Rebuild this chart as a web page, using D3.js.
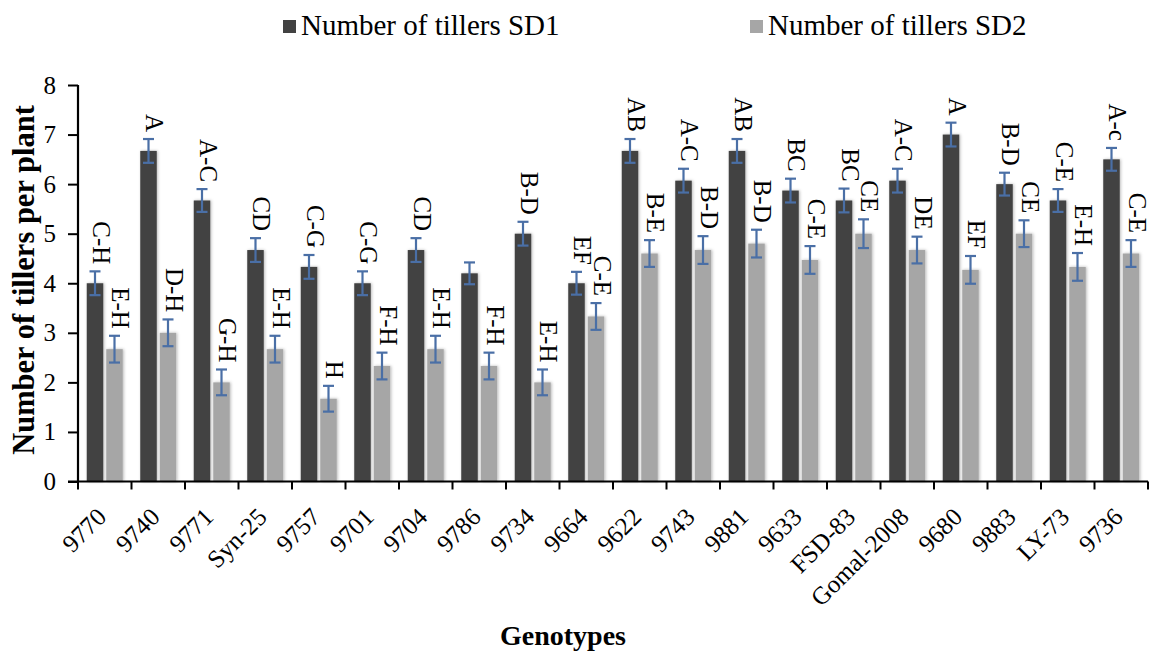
<!DOCTYPE html>
<html>
<head>
<meta charset="utf-8">
<script src="https://cdn.jsdelivr.net/npm/d3@7"></script>
<style>
  html, body { margin: 0; padding: 0; background: #fff; }
  svg { display: block; font-family: "Liberation Serif", "Times New Roman", serif; }
</style>
</head>
<body>
<svg id="chart" width="1150" height="651"></svg>
<script>
// Genotypes on the x axis
const genotypes = ["9770", "9740", "9771", "Syn-25", "9757", "9701", "9704", "9786", "9734", "9664",
  "9622", "9743", "9881", "9633", "FSD-83", "Gomal-2008", "9680", "9883", "LY-73", "9736"];

// Mean number of tillers per plant, sowing date 1 and 2
const tillersSD1 = [4.0, 6.67, 5.67, 4.67, 4.33, 4.0, 4.67, 4.2, 5.0, 4.0,
  6.67, 6.07, 6.67, 5.87, 5.67, 6.07, 7.0, 6.0, 5.67, 6.5];
const tillersSD2 = [2.67, 3.0, 2.0, 2.67, 1.67, 2.33, 2.67, 2.33, 2.0, 3.33,
  4.6, 4.67, 4.8, 4.47, 5.0, 4.67, 4.27, 5.0, 4.33, 4.6];

// Standard errors
const errSD1 = [0.24, 0.24, 0.23, 0.24, 0.24, 0.24, 0.24, 0.22, 0.24, 0.23,
  0.24, 0.24, 0.24, 0.24, 0.24, 0.24, 0.24, 0.23, 0.23, 0.23];
const errSD2 = [0.27, 0.27, 0.26, 0.27, 0.26, 0.27, 0.27, 0.27, 0.26, 0.27,
  0.27, 0.28, 0.28, 0.28, 0.29, 0.27, 0.28, 0.27, 0.28, 0.27];

// Mean separation letters (empty string: no letter drawn)
const lettersSD1 = ["C-H", "A", "A-C", "CD", "C-G", "C-G", "CD", "", "B-D", "EF",
  "AB", "A-C", "AB", "BC", "BC", "A-C", "A", "B-D", "C-E", "A-c"];
const lettersSD2 = ["E-H", "D-H", "G-H", "E-H", "H", "F-H", "E-H", "F-H", "E-H", "C-E",
  "B-E", "B-D", "B-D", "C-E", "CE", "DE", "EF", "CE", "E-H", "C-E"];

const yTicks = [0, 1, 2, 3, 4, 5, 6, 7, 8];

const seriesNames = ["Number of tillers SD1", "Number of tillers SD2"];
const seriesColors = ["#424242", "#a6a6a6"];

const W = 1150, H = 651;
const margin = { top: 85, right: 2, bottom: 170, left: 78 };

const svg = d3.select("#chart");

// soft shadow around the bars
const defs = svg.append("defs");
const f = defs.append("filter").attr("id", "shadow")
  .attr("x", "-30%").attr("y", "-5%").attr("width", "160%").attr("height", "110%");
f.append("feDropShadow").attr("dx", 1).attr("dy", 0).attr("stdDeviation", 1.6)
  .attr("flood-color", "#000").attr("flood-opacity", 0.28);

const x0 = d3.scaleBand().domain(genotypes)
  .range([margin.left, W - margin.right]).paddingInner(0).paddingOuter(0);
const y = d3.scaleLinear().domain([0, 8]).range([H - margin.bottom + 0.5, margin.top]);

const barW = 16.5, barGap = 3;
const offsets = [-barGap / 2 - barW, barGap / 2];

const rows = genotypes.map((g, i) => ({
  g, i,
  vals: [tillersSD1[i], tillersSD2[i]],
  errs: [errSD1[i], errSD2[i]],
  letters: [lettersSD1[i], lettersSD2[i]]
}));

const groups = svg.append("g").selectAll("g.grp").data(rows).join("g")
  .attr("class", "grp")
  .attr("transform", d => `translate(${x0(d.g) + x0.bandwidth() / 2},0)`);

// bars
groups.selectAll("rect").data(d => d.vals.map((v, s) => ({ v, s }))).join("rect")
  .attr("x", d => offsets[d.s])
  .attr("width", barW)
  .attr("y", d => y(d.v))
  .attr("height", d => y(0) - y(d.v))
  .attr("fill", d => seriesColors[d.s])
  .attr("filter", "url(#shadow)");

// error bars
const errColor = "#4a6fa6";
const eb = groups.selectAll("g.err").data(d => d.vals.map((v, s) => ({ v, s, e: d.errs[s] }))).join("g")
  .attr("class", "err")
  .attr("transform", d => `translate(${offsets[d.s] + barW / 2},0)`)
  .attr("stroke", errColor).attr("stroke-width", 2.2);
eb.append("line").attr("x1", 0).attr("x2", 0)
  .attr("y1", d => y(d.v + d.e)).attr("y2", d => y(d.v - d.e));
eb.append("line").attr("x1", -5.5).attr("x2", 5.5)
  .attr("y1", d => y(d.v + d.e)).attr("y2", d => y(d.v + d.e));
eb.append("line").attr("x1", -5.5).attr("x2", 5.5)
  .attr("y1", d => y(d.v - d.e)).attr("y2", d => y(d.v - d.e));

// letters above the error bars, rotated
groups.selectAll("text.lab").data(d => d.vals.map((v, s) => ({ v, s, e: d.errs[s], t: d.letters[s] })))
  .join("text")
  .attr("class", "lab")
  .attr("transform", d => `translate(${offsets[d.s] + barW / 2 - 2.5},${y(d.v + d.e) - 7}) rotate(90)`)
  .attr("text-anchor", "end")
  .attr("font-size", 25)
  .attr("fill", "#000")
  .text(d => d.t);

// y axis
const yAxis = svg.append("g").attr("transform", `translate(${margin.left},0)`)
  .call(d3.axisLeft(y).tickValues(yTicks).tickSize(10).tickPadding(12).tickFormat(d3.format("d")));
yAxis.select(".domain").attr("stroke", "#000").attr("stroke-width", 2.2)
  .attr("d", `M0,${y(8)}V${y(0)}`);
yAxis.selectAll(".tick line").attr("stroke", "#000").attr("stroke-width", 2);
yAxis.selectAll(".tick text").attr("font-size", 25).attr("font-family", "Liberation Serif").attr("fill", "#000");

// x axis
const xAxis = svg.append("g").attr("transform", `translate(0,${y(0)})`);
xAxis.append("line").attr("x1", margin.left - 10).attr("x2", W - margin.right)
  .attr("y1", 0).attr("y2", 0).attr("stroke", "#000").attr("stroke-width", 2.2);
const xTickPos = genotypes.map(g => x0(g)).concat([x0.range()[1]]);
xAxis.selectAll("line.xt").data(xTickPos).join("line").attr("class", "xt")
  .attr("x1", d => d).attr("x2", d => d).attr("y1", 0).attr("y2", 8)
  .attr("stroke", "#000").attr("stroke-width", 2);
xAxis.selectAll("text.xl").data(genotypes).join("text").attr("class", "xl")
  .attr("transform", g => `translate(${x0(g) + x0.bandwidth() / 2 + 3},${37}) rotate(-45)`)
  .attr("text-anchor", "end")
  .attr("font-size", 25)
  .attr("fill", "#000")
  .text(g => g);

// axis titles
svg.append("text")
  .attr("transform", `translate(34,280) rotate(-90)`)
  .attr("text-anchor", "middle").attr("font-weight", "bold").attr("font-size", 30.5)
  .text("Number of tillers per plant");
svg.append("text")
  .attr("x", 563).attr("y", 645)
  .attr("text-anchor", "middle").attr("font-weight", "bold").attr("font-size", 28)
  .text("Genotypes");

// legend
const legendX = [283, 750];
const leg = svg.append("g").selectAll("g").data(seriesNames).join("g")
  .attr("transform", (d, i) => `translate(${legendX[i]},0)`);
leg.append("rect").attr("x", 0).attr("y", 20).attr("width", 13).attr("height", 13)
  .attr("fill", (d, i) => seriesColors[i]);
leg.append("text").attr("x", 18).attr("y", 35).attr("font-size", 29).attr("fill", "#000")
  .text(d => d);
</script>
</body>
</html>
